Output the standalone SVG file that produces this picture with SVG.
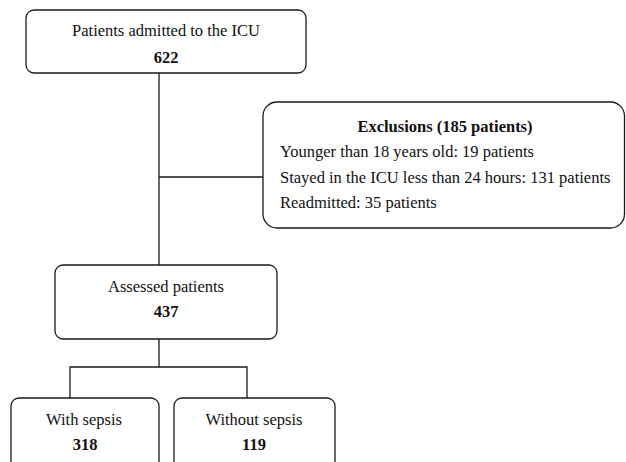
<svg xmlns="http://www.w3.org/2000/svg" width="626" height="462" viewBox="0 0 626 462">
<style>
.box{fill:#fff;stroke:#1a1a1a;stroke-width:1.3}
.ln{fill:none;stroke:#1a1a1a;stroke-width:1.3}
text{font-family:"Liberation Serif","Times New Roman",serif;font-size:16.5px;fill:#111}
.c{text-anchor:middle}
.b{font-weight:bold}
</style>
<rect width="626" height="462" fill="#fff"/>
<g id="connectors">
<path class="ln" d="M159,73 V265 M159,177 H263 M159,339 V367 M70,398 V367 H247 V398"/>
</g>
<g id="admitted">
<rect class="box" x="26" y="10" width="280" height="63" rx="8"/>
<text class="c" x="166" y="36">Patients admitted to the ICU</text>
<text class="c b" x="166" y="63">622</text>
</g>
<g id="exclusions">
<rect class="box" x="263" y="102" width="361.5" height="126" rx="14"/>
<text class="c b" x="445" y="132">Exclusions (185 patients)</text>
<text x="280" y="157">Younger than 18 years old: 19 patients</text>
<text x="280" y="183">Stayed in the ICU less than 24 hours: 131 patients</text>
<text x="280" y="208">Readmitted: 35 patients</text>
</g>
<g id="assessed">
<rect class="box" x="55" y="265" width="222" height="74" rx="8"/>
<text class="c" x="166" y="292">Assessed patients</text>
<text class="c b" x="166" y="317">437</text>
</g>
<g id="with-sepsis">
<rect class="box" x="11" y="398" width="148" height="80" rx="8"/>
<text class="c" x="84" y="425">With sepsis</text>
<text class="c b" x="85" y="450">318</text>
</g>
<g id="without-sepsis">
<rect class="box" x="174" y="398" width="161" height="80" rx="8"/>
<text class="c" x="254" y="425">Without sepsis</text>
<text class="c b" x="254" y="450">119</text>
</g>
</svg>
